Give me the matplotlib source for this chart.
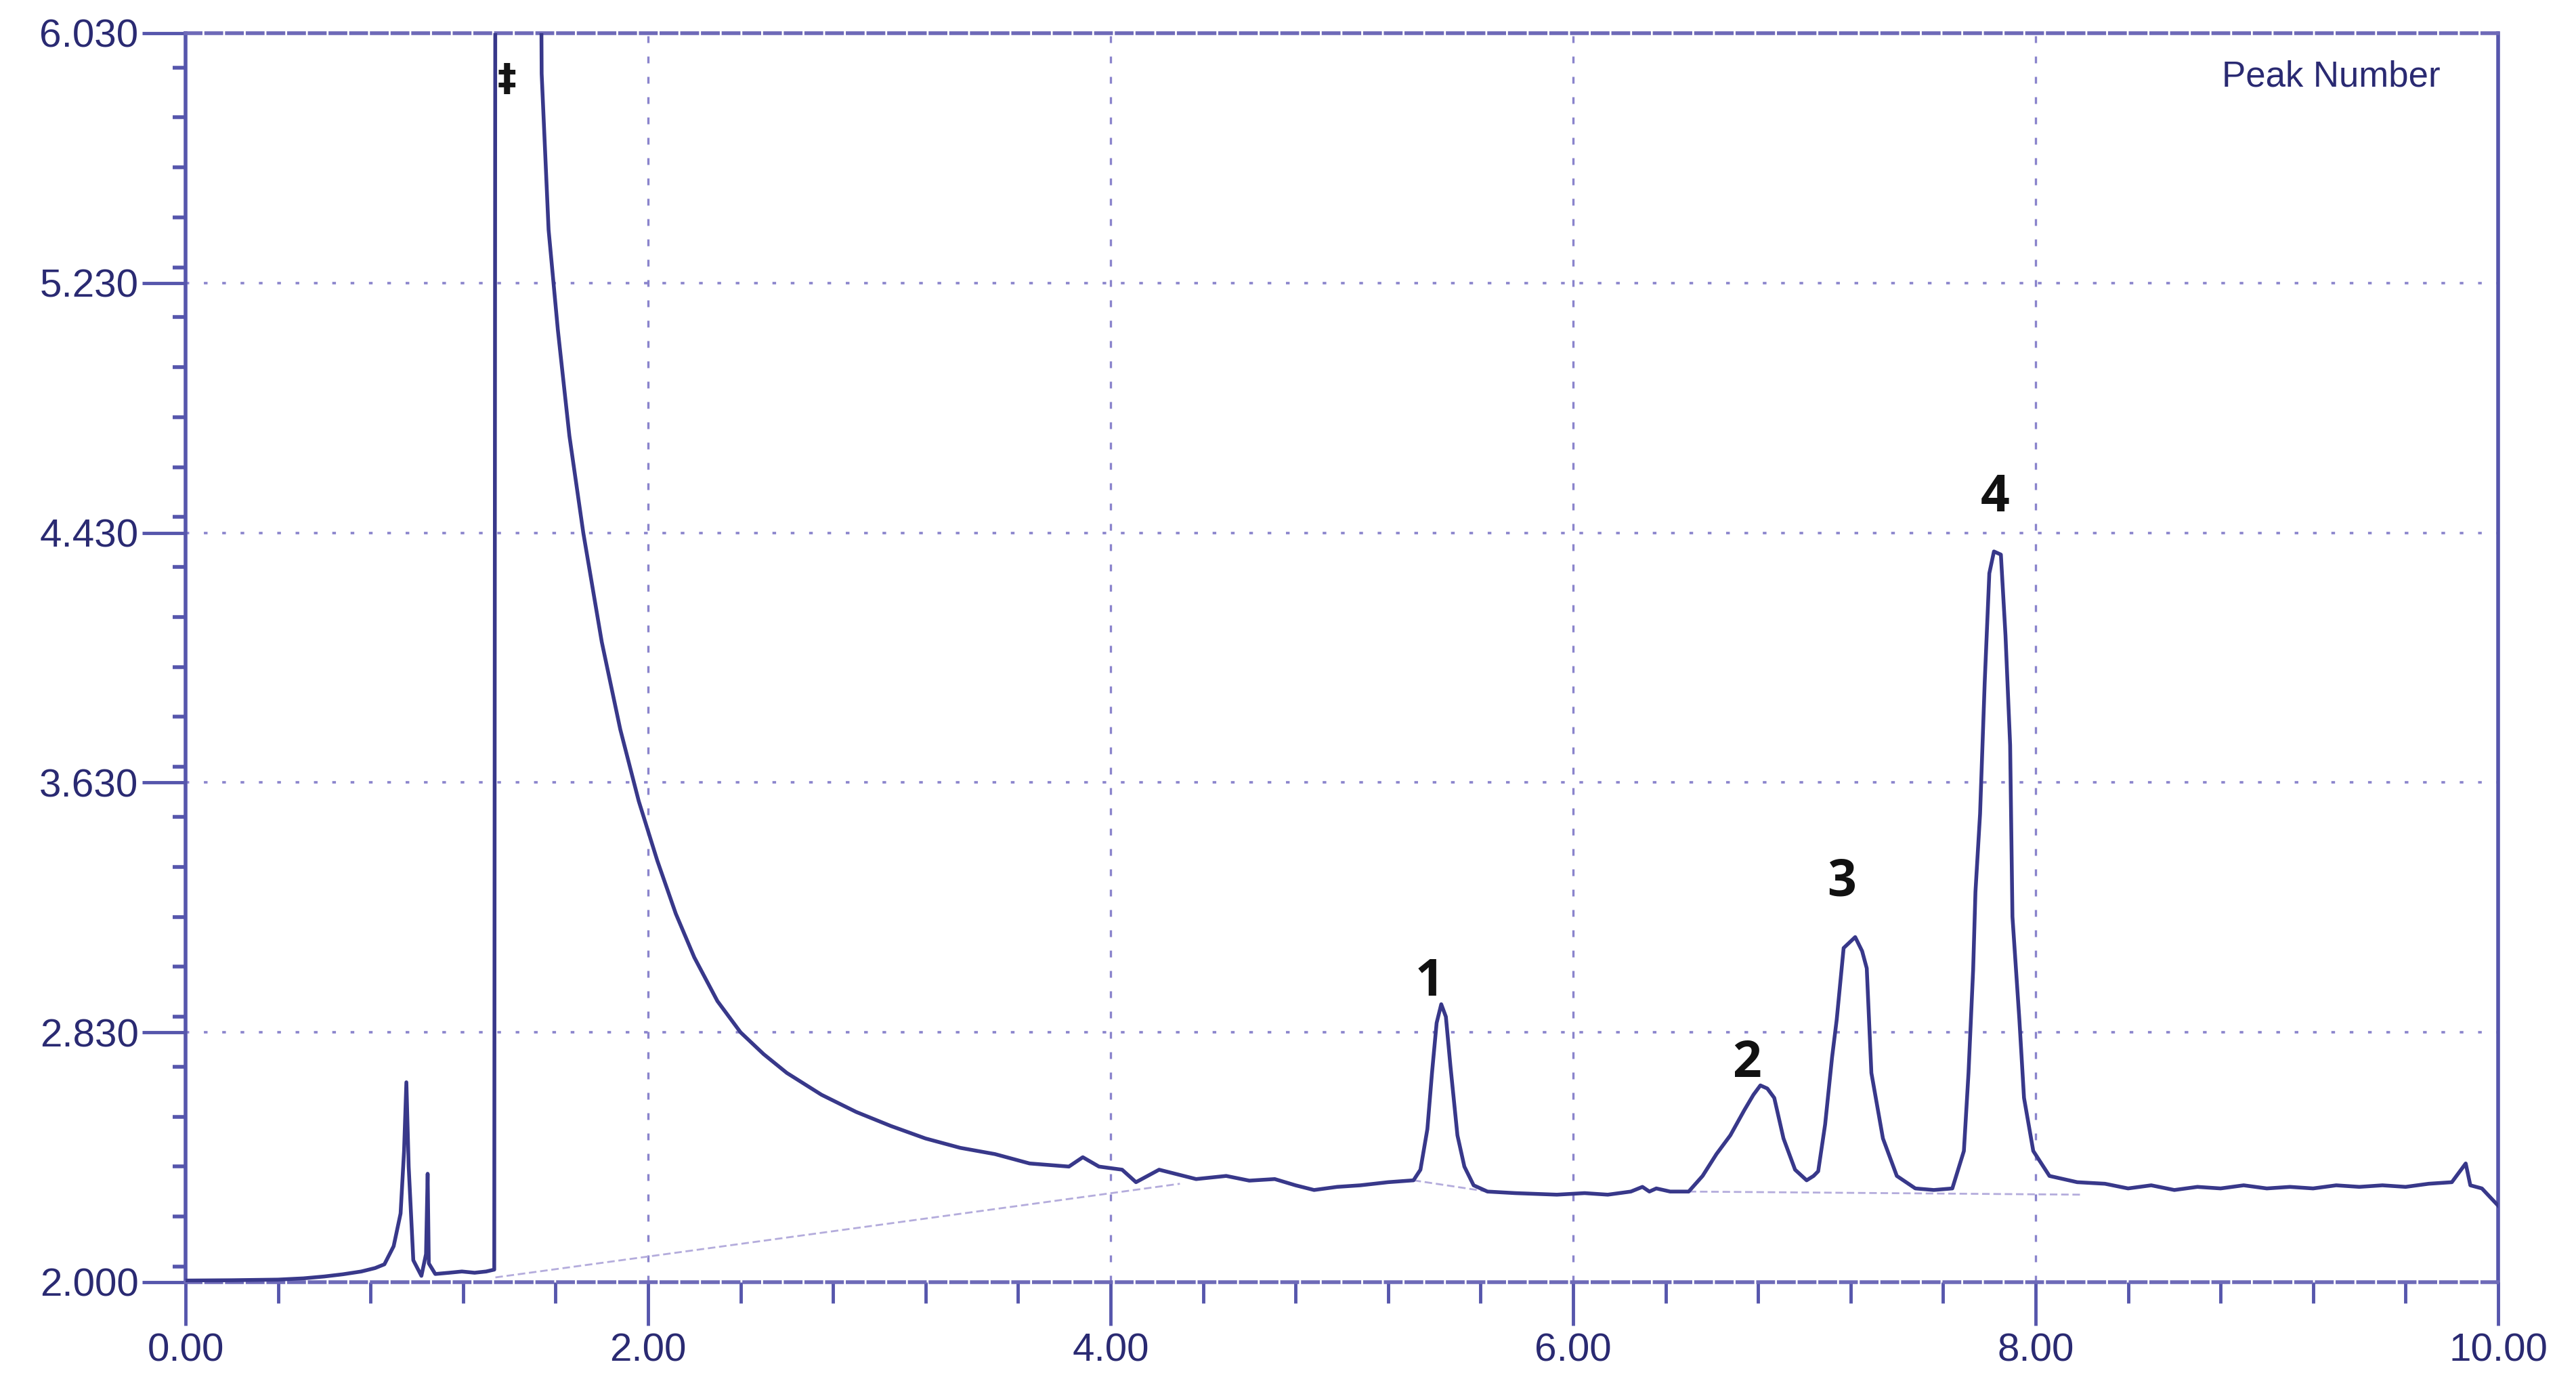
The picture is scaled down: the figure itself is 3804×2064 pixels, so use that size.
import matplotlib.pyplot as plt
from matplotlib.ticker import MultipleLocator

# chromatogram trace (time in min, signal)
time = [0.00, 0.20, 0.40, 0.51, 0.60, 0.68, 0.76, 0.82, 0.86, 0.90, 0.93, 0.945, 0.955, 0.965,
        0.985, 1.02, 1.04, 1.047, 1.052, 1.08, 1.14, 1.195, 1.25, 1.30, 1.335, 1.34,
        1.535, 1.54, 1.57, 1.61, 1.66, 1.72, 1.80, 1.88, 1.96, 2.04, 2.12, 2.20, 2.30, 2.40,
        2.50, 2.60, 2.75, 2.90, 3.05, 3.20, 3.35, 3.50, 3.65, 3.82, 3.88, 3.95, 4.05, 4.11,
        4.21, 4.37, 4.50, 4.60, 4.71, 4.80, 4.88, 4.98, 5.08, 5.20, 5.31,
        5.34, 5.37, 5.39, 5.41, 5.43, 5.45, 5.47, 5.50, 5.53, 5.57, 5.63,
        5.75, 5.93, 6.05, 6.15, 6.25, 6.30, 6.33, 6.36, 6.42, 6.50,
        6.56, 6.62, 6.68, 6.74, 6.78, 6.81, 6.84, 6.87, 6.91, 6.96, 7.01,
        7.04, 7.06, 7.09, 7.12, 7.14, 7.17, 7.22, 7.25, 7.27, 7.29, 7.34, 7.40, 7.48, 7.56, 7.64,
        7.69, 7.71, 7.73, 7.74, 7.76, 7.78, 7.80, 7.82, 7.85, 7.87, 7.89, 7.90, 7.93, 7.95,
        7.99, 8.06, 8.18, 8.30, 8.40, 8.50, 8.60, 8.70, 8.80, 8.90, 9.00, 9.10, 9.20,
        9.30, 9.40, 9.50, 9.60, 9.70, 9.80, 9.86, 9.88, 9.93, 10.00]
signal = [2.035, 2.036, 2.038, 2.042, 2.048, 2.055, 2.064, 2.075, 2.087, 2.145, 2.25, 2.45, 2.67, 2.40,
          2.10, 2.05, 2.12, 2.377, 2.09, 2.056, 2.060, 2.064, 2.060, 2.064, 2.07, 6.60,
          6.60, 5.90, 5.40, 5.08, 4.74, 4.43, 4.08, 3.80, 3.57, 3.38, 3.21, 3.07, 2.93, 2.83,
          2.76, 2.70, 2.63, 2.575, 2.53, 2.49, 2.46, 2.44, 2.41, 2.40, 2.43, 2.40, 2.39, 2.35,
          2.39, 2.36, 2.37, 2.355, 2.36, 2.34, 2.325, 2.335, 2.34, 2.35, 2.356,
          2.39, 2.52, 2.70, 2.86, 2.92, 2.88, 2.72, 2.50, 2.40, 2.34, 2.32,
          2.315, 2.31, 2.315, 2.31, 2.32, 2.335, 2.32, 2.33, 2.32, 2.32,
          2.37, 2.44, 2.50, 2.58, 2.63, 2.66, 2.65, 2.62, 2.49, 2.39, 2.356,
          2.37, 2.385, 2.535, 2.75, 2.87, 3.10, 3.135, 3.09, 3.035, 2.70, 2.49, 2.37, 2.33, 2.325, 2.33,
          2.45, 2.70, 3.03, 3.28, 3.53, 3.95, 4.30, 4.37, 4.36, 4.10, 3.75, 3.20, 2.87, 2.62,
          2.45, 2.37, 2.35, 2.345, 2.33, 2.34, 2.325, 2.335, 2.33, 2.34, 2.33, 2.335, 2.33,
          2.34, 2.335, 2.34, 2.335, 2.345, 2.35, 2.41, 2.34, 2.33, 2.275]

# integration baselines
base_segments = [([1.34, 4.30], [2.045, 2.345]),
                  ([5.31, 5.63], [2.356, 2.32]),
                  ([6.50, 8.20], [2.32, 2.31])]

# peak labels
peak_names = ["1", "2", "3", "4"]
peak_x = [5.38, 6.75, 7.16, 7.826]
peak_y = [2.99, 2.73, 3.31, 4.54]

y_ticks = [2.03, 2.83, 3.63, 4.43, 5.23, 6.03]
y_labels = ["2.000", "2.830", "3.630", "4.430", "5.230", "6.030"]
x_ticks = [0, 2, 4, 6, 8, 10]
x_labels = ["0.00", "2.00", "4.00", "6.00", "8.00", "10.00"]

plt.rcParams['font.family'] = ['Liberation Sans', 'DejaVu Sans']

fig = plt.figure(figsize=(38.05, 20.64), dpi=100)
ax = fig.add_axes([0.0720, 0.0829, 0.8975, 0.8934])

navy = "#2a2a72"
axis_col = "#5656ac"
grid_col = "#8a84cc"

# grid
for gx in x_ticks[1:-1]:
    ax.axvline(gx, color=grid_col, lw=2.4, ls=(0, (3, 6)), zorder=1)
for gy in y_ticks[1:-1]:
    ax.axhline(gy, color=grid_col, lw=2.6, ls=(0, (1.5, 6)), zorder=1)

for bx, by in base_segments:
    ax.plot(bx, by, color="#b4acdc", lw=2.0, ls=(0, (4, 2)), zorder=2)

ax.plot(time, signal, color="#38388a", lw=4.0, zorder=3)

for name, px, py in zip(peak_names, peak_x, peak_y):
    ax.text(px, py, name, ha="center", va="center", fontsize=54,
            fontweight="bold", family=["Open Sans", "DejaVu Sans"], color="#111111", zorder=4)

ax.text(1.39, 5.88, "\u2021", ha="center", va="center", fontsize=40,
        fontweight="bold", family=["DejaVu Sans"], color="#151515", zorder=4)

ax.text(0.975, 0.965, "Peak Number", transform=ax.transAxes, ha="right", va="center",
        fontsize=38, color=navy)

ax.set_xlim(0, 10)
ax.set_ylim(2.03, 6.03)
ax.set_xticks(x_ticks)
ax.set_xticklabels(x_labels)
ax.set_yticks(y_ticks)
ax.set_yticklabels(y_labels)
ax.xaxis.set_minor_locator(MultipleLocator(0.4))
ax.yaxis.set_minor_locator(MultipleLocator(0.16))

ax.tick_params(axis="x", which="major", direction="out", length=46, width=3.5,
               color=axis_col, labelsize=42, labelcolor=navy, pad=8)
ax.tick_params(axis="x", which="minor", direction="out", length=22, width=3.5, color=axis_col)
ax.tick_params(axis="y", which="major", direction="out", length=46, width=3.5,
               color=axis_col, labelsize=42, labelcolor=navy, pad=4)
ax.tick_params(axis="y", which="minor", direction="out", length=14, width=4, color=axis_col)

for side in ["left", "right"]:
    ax.spines[side].set_color(axis_col)
    ax.spines[side].set_linewidth(4)
for side in ["top", "bottom"]:
    ax.spines[side].set_color("#6e6ab8")
    ax.spines[side].set_linewidth(4)
    ax.spines[side].set_linestyle((0, (4, 1.5)))

fig.savefig("out.png", dpi=100, facecolor="white")
